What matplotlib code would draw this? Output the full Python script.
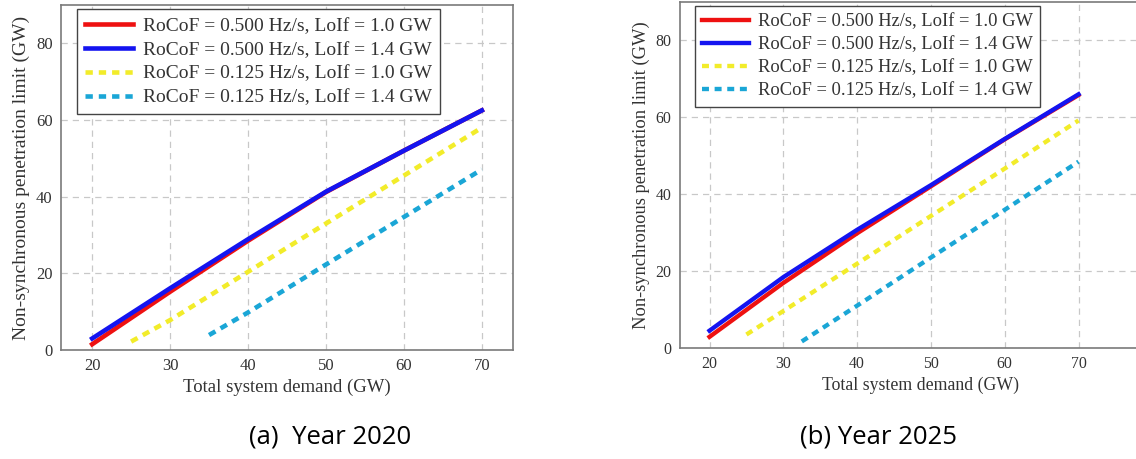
import numpy as np
import matplotlib.pyplot as plt

# Datos
demanda = [20, 30, 40, 50, 60, 70]

# Year 2020
rojo_2020 = [1.5, 15.2, 28.5, 41.2, 52.0, 62.5]
azul_2020 = [3.0, 16.1, 28.9, 41.3, 52.0, 62.5]
x_amarillo_2020 = [25, 30, 40, 50, 60, 70]
amarillo_2020 = [2.2, 7.8, 20.4, 33.0, 45.5, 58.0]
x_cian_2020 = [35, 40, 50, 60, 70]
cian_2020 = [3.9, 9.8, 22.3, 34.7, 47.1]

# Year 2025
rojo_2025 = [2.9, 16.9, 29.8, 42.0, 54.2, 65.7]
azul_2025 = [4.5, 18.4, 30.7, 42.3, 54.3, 65.9]
x_amarillo_2025 = [25, 30, 40, 50, 60, 70]
amarillo_2025 = [3.5, 9.6, 21.9, 34.3, 46.6, 59.1]
x_cian_2025 = [32.5, 40, 50, 60, 70]
cian_2025 = [1.7, 11.0, 23.5, 35.9, 48.4]

etiquetas = ["RoCoF = 0.500 Hz/s, LoIf = 1.0 GW",
             "RoCoF = 0.500 Hz/s, LoIf = 1.4 GW",
             "RoCoF = 0.125 Hz/s, LoIf = 1.0 GW",
             "RoCoF = 0.125 Hz/s, LoIf = 1.4 GW"]
subtitulos = ["(a)  Year 2020", "(b) Year 2025"]

plt.rcParams['font.family'] = ['Liberation Serif', 'DejaVu Serif']

fig = plt.figure(figsize=(11.36, 4.59), dpi=100)
W, H = 1136, 459

# posiciones en pixeles
ax1 = fig.add_axes([61 / W, (H - 350) / H, 452 / W, 345 / H])
ax2 = fig.add_axes([680 / W, (H - 348) / H, 482 / W, 346.5 / H])


def dibujar(ax, rojo, azul, xa, am, xc, ci, xmax, leg_x, k):
    # k: escala de la imagen (la de 2025 esta un poco reducida)
    lw = 3.3 * k
    ax.plot(demanda, azul, color='#1414f0', lw=lw, label=etiquetas[1], zorder=3)
    ax.plot(demanda, rojo, color='#ee1111', lw=lw, label=etiquetas[0], zorder=2)
    ax.plot(xa, am, color='#f2ec2a', lw=lw, ls=(0, (1.6, 1.3)), label=etiquetas[2])
    ax.plot(xc, ci, color='#1aa6d6', lw=lw, ls=(0, (1.6, 1.3)), label=etiquetas[3])
    ax.set_xlim(16, xmax)
    ax.set_ylim(0, 90)
    ax.set_xticks([20, 30, 40, 50, 60, 70])
    ax.set_yticks([0, 20, 40, 60, 80])
    ax.grid(True, ls=(0, (5, 4)), color='#c8c8c8', lw=0.9)
    ax.set_axisbelow(True)
    for s in ax.spines.values():
        s.set_color('#7a7a7a')
        s.set_linewidth(1.2)
    ax.tick_params(length=0, labelsize=12 * k, colors='#333333', pad=6)
    ax.set_xlabel("Total system demand (GW)", fontsize=13.5 * k, color='#333333', labelpad=3)
    ax.set_ylabel("Non-synchronous penetration limit (GW)", fontsize=14 * k,
                  color='#333333', labelpad=4)
    h, l = ax.get_legend_handles_labels()
    orden = [1, 0, 2, 3]
    leg = ax.legend([h[i] for i in orden], [l[i] for i in orden],
                    loc='upper left', bbox_to_anchor=(leg_x, 0.987),
                    fontsize=14 * k, fancybox=False, framealpha=1,
                    edgecolor='#444444', handlelength=2.5, labelspacing=0.32,
                    borderpad=0.4, handletextpad=0.5, borderaxespad=0)
    leg.get_frame().set_linewidth(1.0)
    for t in leg.get_texts():
        t.set_color('#333333')


dibujar(ax1, rojo_2020, azul_2020, x_amarillo_2020, amarillo_2020,
        x_cian_2020, cian_2020, 74, 0.035, 1.0)
dibujar(ax2, rojo_2025, azul_2025, x_amarillo_2025, amarillo_2025,
        x_cian_2025, cian_2025, 16 + 482 / 7.38, 0.031, 0.95)

fig.text(330 / W, 1 - 437 / H, subtitulos[0], ha='center', va='center',
         fontsize=18.5, family=['Open Sans', 'DejaVu Sans'])
fig.text(878 / W, 1 - 437 / H, subtitulos[1], ha='center', va='center',
         fontsize=18.5, family=['Open Sans', 'DejaVu Sans'])

fig.savefig("out.png", dpi=100)
